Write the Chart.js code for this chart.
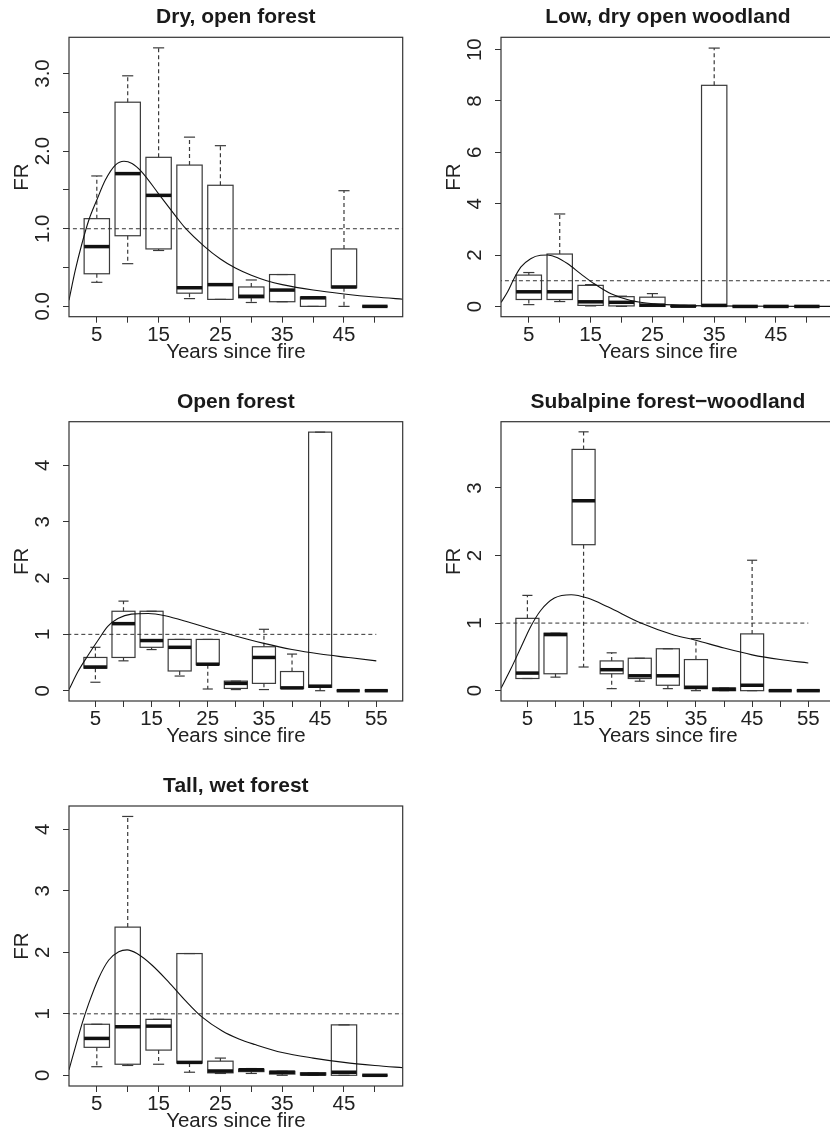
<!DOCTYPE html>
<html><head><meta charset="utf-8">
<script src="https://cdn.jsdelivr.net/npm/chart.js@4.4.1/dist/chart.umd.min.js"></script>
<style>
html,body{margin:0;padding:0;background:#fff;}
#wrap{position:relative;width:830px;height:1132px;overflow:hidden;background:#fff;}
canvas{position:absolute;}
</style></head><body><div id="wrap">
<canvas id="c1" width="432" height="384" style="left:0px;top:0px"></canvas>
<canvas id="c2" width="432" height="384" style="left:432px;top:0px"></canvas>
<canvas id="c3" width="432" height="384" style="left:0px;top:384px"></canvas>
<canvas id="c4" width="432" height="384" style="left:432px;top:384px"></canvas>
<canvas id="c5" width="432" height="384" style="left:0px;top:768px"></canvas>
</div>
<script>
// ---------- shared categories / tick labels ----------
const posA = [5, 10, 15, 20, 25, 30, 35, 40, 45, 50];
const posB = [5, 10, 15, 20, 25, 30, 35, 40, 45, 50, 55];
const xTicksA = [5, 10, 15, 20, 25, 30, 35, 40, 45, 50];
const xLabelsA = ['5', '', '15', '', '25', '', '35', '', '45', ''];
const xTicksB = [5, 10, 15, 20, 25, 30, 35, 40, 45, 50, 55];
const xLabelsB = ['5', '', '15', '', '25', '', '35', '', '45', '', '55'];
const xRangeA = [0.5, 54.5];
const xRangeB = [0.3, 59.7];
const refX = [0, 55];
const refY = [1, 1];
const xTitle = 'Years since fire';
const yTitle = 'FR';

// ---------- Panel 1: Dry, open forest ----------
const p1Title = 'Dry, open forest';
const p1YRange = [-0.133, 3.466];
const p1YTicks = [0, 0.5, 1, 1.5, 2, 2.5, 3];
const p1YLabels = ['0.0', '', '1.0', '', '2.0', '', '3.0'];
const p1Hi  = [1.68, 2.97, 3.33, 2.18, 2.07, 0.34, 0.41, 0.12, 1.49, 0];
const p1Q3  = [1.13, 2.63, 1.92, 1.82, 1.56, 0.25, 0.41, 0.12, 0.74, 0];
const p1Med = [0.77, 1.71, 1.43, 0.24, 0.28, 0.13, 0.21, 0.11, 0.25, 0];
const p1Q1  = [0.42, 0.91, 0.74, 0.17, 0.09, 0.11, 0.06, 0.00, 0.24, 0];
const p1Lo  = [0.31, 0.55, 0.72, 0.10, 0.09, 0.05, 0.06, 0.00, 0.00, 0];
const p1CurveX = [0.5, 1.5, 2.6, 3.7, 5, 6.4, 8, 9.4, 10.7, 12.3, 15, 17.7, 19.3, 22.3, 25, 27.5, 30, 32.5, 35, 40, 45, 50, 55];
const p1CurveY = [0.08, 0.46, 0.81, 1.11, 1.37, 1.63, 1.82, 1.87, 1.84, 1.73, 1.45, 1.17, 1.01, 0.78, 0.61, 0.49, 0.40, 0.33, 0.28, 0.21, 0.16, 0.12, 0.09];

// ---------- Panel 2: Low, dry open woodland ----------
const p2Title = 'Low, dry open woodland';
const p2YRange = [-0.40, 10.48];
const p2YTicks = [0, 2, 4, 6, 8, 10];
const p2YLabels = ['0', '2', '4', '6', '8', '10'];
const p2Hi  = [1.32, 3.60, 0.85, 0.40, 0.50, 0.02, 10.06, 0, 0, 0];
const p2Q3  = [1.22, 2.04, 0.82, 0.38, 0.36, 0.02, 8.61, 0, 0, 0];
const p2Med = [0.57, 0.57, 0.18, 0.16, 0.05, 0.01, 0.04, 0, 0, 0];
const p2Q1  = [0.27, 0.27, 0.04, 0.02, 0.00, 0.00, 0.00, 0, 0, 0];
const p2Lo  = [0.07, 0.19, 0.02, 0.00, 0.00, 0.00, 0.00, 0, 0, 0];
const p2CurveX = [0.5, 1.55, 2.6, 3.7, 5.3, 6.9, 8, 9.65, 11.3, 13.4, 15.6, 18.3, 21.5, 25.3, 30.2, 35, 40, 45, 50, 55];
const p2CurveY = [0.15, 0.56, 1.08, 1.53, 1.86, 1.99, 2.0, 1.9, 1.66, 1.27, 0.88, 0.49, 0.23, 0.1, 0.04, 0.02, 0.01, 0.005, 0.003, 0.002];

// ---------- Panel 3: Open forest ----------
const p3Title = 'Open forest';
const p3YRange = [-0.183, 4.775];
const p3YTicks = [0, 1, 2, 3, 4];
const p3YLabels = ['0', '1', '2', '3', '4'];
const p3Hi  = [0.77, 1.59, 1.41, 0.91, 0.91, 0.17, 1.09, 0.65, 4.59, 0, 0];
const p3Q3  = [0.59, 1.41, 1.41, 0.91, 0.91, 0.17, 0.78, 0.34, 4.59, 0, 0];
const p3Med = [0.42, 1.19, 0.89, 0.77, 0.47, 0.13, 0.59, 0.05, 0.08, 0, 0];
const p3Q1  = [0.40, 0.59, 0.77, 0.35, 0.46, 0.04, 0.13, 0.04, 0.06, 0, 0];
const p3Lo  = [0.15, 0.53, 0.73, 0.26, 0.03, 0.02, 0.02, 0.04, 0.00, 0, 0];
const p3CurveX = [0.3, 1.9, 3.7, 5.5, 7.2, 9, 11.4, 14.4, 17.4, 22.1, 29.3, 35, 40, 45, 50, 55];
const p3CurveY = [0.02, 0.34, 0.63, 0.9, 1.14, 1.28, 1.36, 1.37, 1.33, 1.2, 0.99, 0.84, 0.73, 0.65, 0.59, 0.53];

// ---------- Panel 4: Subalpine forest-woodland ----------
const p4Title = 'Subalpine forest\u2212woodland';
const p4YRange = [-0.153, 3.98];
const p4YTicks = [0, 1, 2, 3];
const p4YLabels = ['0', '1', '2', '3'];
const p4Hi  = [1.41, 0.85, 3.83, 0.56, 0.48, 0.62, 0.77, 0.04, 1.93, 0, 0];
const p4Q3  = [1.07, 0.85, 3.57, 0.44, 0.48, 0.62, 0.46, 0.04, 0.84, 0, 0];
const p4Med = [0.26, 0.83, 2.81, 0.31, 0.22, 0.22, 0.05, 0.02, 0.08, 0, 0];
const p4Q1  = [0.18, 0.25, 2.16, 0.25, 0.18, 0.08, 0.03, 0.00, 0.00, 0, 0];
const p4Lo  = [0.18, 0.20, 0.35, 0.03, 0.14, 0.03, 0.00, 0.00, 0.00, 0, 0];
const p4CurveX = [0.3, 2.1, 3.9, 5.6, 7.4, 9.8, 12.8, 15.7, 19.3, 25.2, 31.2, 34.8, 40, 45, 50, 55];
const p4CurveY = [0.035, 0.33, 0.65, 0.95, 1.19, 1.37, 1.42, 1.37, 1.24, 1.0, 0.82, 0.75, 0.63, 0.53, 0.46, 0.41];

// ---------- Panel 5: Tall, wet forest ----------
const p5Title = 'Tall, wet forest';
const p5YRange = [-0.174, 4.38];
const p5YTicks = [0, 1, 2, 3, 4];
const p5YLabels = ['0', '1', '2', '3', '4'];
const p5Hi  = [0.83, 4.21, 0.91, 1.98, 0.28, 0.11, 0.065, 0.04, 0.82, 0];
const p5Q3  = [0.83, 2.41, 0.91, 1.98, 0.23, 0.10, 0.065, 0.04, 0.82, 0];
const p5Med = [0.60, 0.79, 0.80, 0.21, 0.07, 0.09, 0.05, 0.02, 0.05, 0];
const p5Q1  = [0.455, 0.18, 0.41, 0.20, 0.04, 0.06, 0.02, 0.005, 0.00, 0];
const p5Lo  = [0.14, 0.16, 0.18, 0.05, 0.03, 0.03, 0.00, 0.00, 0.00, 0];
const p5CurveX = [0.5, 1.56, 2.64, 3.7, 5.3, 6.94, 8.55, 9.9, 11.5, 13.95, 16.6, 19.3, 22, 25.3, 28, 30.6, 35, 40, 45, 50, 55];
const p5CurveY = [0.09, 0.47, 0.85, 1.17, 1.58, 1.875, 2.01, 2.04, 1.98, 1.79, 1.52, 1.22, 0.95, 0.72, 0.59, 0.5, 0.37, 0.28, 0.21, 0.16, 0.12];

// ---------- styling constants ----------
const FONT = '"Liberation Sans", Arial, Helvetica, sans-serif';
const AXIS_PX = 20.5, TITLE_PX = 21;
const BOX_HALF = 2.05, STAPLE_HALF = 0.9;
const CANVAS_W = 432, CANVAS_H = 384;
const PLOT_LEFT = 69, PLOT_RIGHT = 402.7, TICK_LEN = 6;
const INK = '#222';

const rboxPlugin = {
  id: 'rbox',
  beforeDatasetsDraw(chart, args, o) {
    const ctx = chart.ctx, xs = chart.scales.x, ys = chart.scales.y;
    const line = (a, b, c, d) => { ctx.beginPath(); ctx.moveTo(a, b); ctx.lineTo(c, d); ctx.stroke(); };
    ctx.save();
    for (let i = 0; i < o.pos.length; i++) {
      const p = o.pos[i];
      const xc = xs.getPixelForValue(p);
      const x0 = xs.getPixelForValue(p - BOX_HALF), x1 = xs.getPixelForValue(p + BOX_HALF);
      const s0 = xs.getPixelForValue(p - STAPLE_HALF), s1 = xs.getPixelForValue(p + STAPLE_HALF);
      const yHi = ys.getPixelForValue(o.hi[i]), yQ3 = ys.getPixelForValue(o.q3[i]);
      const yMed = ys.getPixelForValue(o.med[i]), yQ1 = ys.getPixelForValue(o.q1[i]);
      const yLo = ys.getPixelForValue(o.lo[i]);
      ctx.strokeStyle = '#3a3a3a'; ctx.lineWidth = 1.2;
      ctx.setLineDash([4, 3]);
      if (yHi < yQ3) line(xc, yQ3, xc, yHi);
      if (yLo > yQ1) line(xc, yQ1, xc, yLo);
      ctx.setLineDash([]);
      line(s0, yHi, s1, yHi);
      line(s0, yLo, s1, yLo);
      ctx.strokeRect(x0, yQ3, x1 - x0, yQ1 - yQ3);
      ctx.strokeStyle = '#111'; ctx.lineWidth = 3.5; ctx.lineCap = 'butt';
      line(x0, yMed, x1, yMed);
    }
    ctx.restore();
  },
  afterDatasetsDraw(chart) {
    const ctx = chart.ctx, a = chart.chartArea;
    ctx.save();
    ctx.strokeStyle = '#333'; ctx.lineWidth = 1.2;
    ctx.strokeRect(a.left, a.top, a.right - a.left, a.bottom - a.top);
    ctx.restore();
  }
};

const measure = document.createElement('canvas').getContext('2d');
function widest(labels) {
  measure.font = AXIS_PX + 'px ' + FONT;
  return Math.max(...labels.map(l => measure.measureText(l).width));
}

function makePanel(id, title, xRange, xTicks, xLabels, yRange, yTicks, yLabels, pos, lo, q1, med, q3, hi, cx, cy, plotTop, plotBottom) {
  const lineH = AXIS_PX * 1.2;
  const titleLineH = TITLE_PX * 1.2;
  const titlePadTop = plotTop - 19.8 - titleLineH / 2;
  const titlePadBottom = plotTop - titlePadTop - titleLineH;
  const yPad = (PLOT_LEFT - TICK_LEN - 43) - widest(yLabels) / 2;
  new Chart(document.getElementById(id), {
    type: 'line',
    data: {
      datasets: [
        { data: cx.map((x, i) => ({ x, y: cy[i] })), borderColor: '#111', borderWidth: 1.1,
          pointRadius: 0, cubicInterpolationMode: 'monotone', fill: false, clip: 0 },
        { data: refX.map((x, i) => ({ x, y: refY[i] })), borderColor: '#333', borderWidth: 1,
          borderDash: [4, 3], pointRadius: 0, fill: false, clip: 0 }
      ]
    },
    options: {
      responsive: false, animation: false, devicePixelRatio: 1,
      layout: { padding: { left: 0, top: 0, bottom: 0, right: CANVAS_W - PLOT_RIGHT } },
      plugins: {
        legend: { display: false }, tooltip: { enabled: false },
        title: { display: true, text: title, fullSize: false, color: '#1a1a1a',
          font: { family: FONT, size: TITLE_PX, weight: 'bold', lineHeight: 1.2 },
          padding: { top: titlePadTop, bottom: titlePadBottom } },
        rbox: { pos, lo, q1, med, q3, hi }
      },
      scales: {
        x: {
          type: 'linear', min: xRange[0], max: xRange[1],
          afterBuildTicks: s => { s.ticks = xTicks.map(v => ({ value: v })); },
          afterFit: s => { s.height = CANVAS_H - plotBottom; },
          grid: { display: true, drawOnChartArea: false, drawTicks: true, tickLength: TICK_LEN, color: '#333', lineWidth: 1 },
          border: { display: false },
          ticks: { autoSkip: false, maxRotation: 0, minRotation: 0, padding: 0, color: INK,
            font: { family: FONT, size: AXIS_PX, lineHeight: 1.2 },
            callback: (v, i) => xLabels[i] },
          title: { display: true, text: xTitle, color: INK,
            font: { family: FONT, size: AXIS_PX, lineHeight: 1.2 },
            padding: { top: 0, bottom: CANVAS_H - plotBottom - 35.3 - lineH / 2 } }
        },
        y: {
          type: 'linear', min: yRange[0], max: yRange[1],
          afterBuildTicks: s => { s.ticks = yTicks.map(v => ({ value: v })); },
          afterFit: s => { s.width = PLOT_LEFT; },
          grid: { display: true, drawOnChartArea: false, drawTicks: true, tickLength: TICK_LEN, color: '#333', lineWidth: 1 },
          border: { display: false },
          ticks: { autoSkip: false, minRotation: 90, maxRotation: 90, crossAlign: 'center', padding: yPad, color: INK,
            font: { family: FONT, size: AXIS_PX, lineHeight: 1.2 },
            callback: (v, i) => yLabels[i] },
          title: { display: true, text: yTitle, color: INK,
            font: { family: FONT, size: AXIS_PX, lineHeight: 1.2 },
            padding: { top: 22.5 - lineH / 2, bottom: 0 } }
        }
      }
    },
    plugins: [rboxPlugin]
  });
}

makePanel('c1', p1Title, xRangeA, xTicksA, xLabelsA, p1YRange, p1YTicks, p1YLabels, posA, p1Lo, p1Q1, p1Med, p1Q3, p1Hi, p1CurveX, p1CurveY, 37.3, 316.7);
makePanel('c2', p2Title, xRangeA, xTicksA, xLabelsA, p2YRange, p2YTicks, p2YLabels, posA, p2Lo, p2Q1, p2Med, p2Q3, p2Hi, p2CurveX, p2CurveY, 37.3, 316.7);
makePanel('c3', p3Title, xRangeB, xTicksB, xLabelsB, p3YRange, p3YTicks, p3YLabels, posB, p3Lo, p3Q1, p3Med, p3Q3, p3Hi, p3CurveX, p3CurveY, 37.7, 317);
makePanel('c4', p4Title, xRangeB, xTicksB, xLabelsB, p4YRange, p4YTicks, p4YLabels, posB, p4Lo, p4Q1, p4Med, p4Q3, p4Hi, p4CurveX, p4CurveY, 37.7, 317);
makePanel('c5', p5Title, xRangeA, xTicksA, xLabelsA, p5YRange, p5YTicks, p5YLabels, posA, p5Lo, p5Q1, p5Med, p5Q3, p5Hi, p5CurveX, p5CurveY, 38, 318);
</script>
</body></html>
